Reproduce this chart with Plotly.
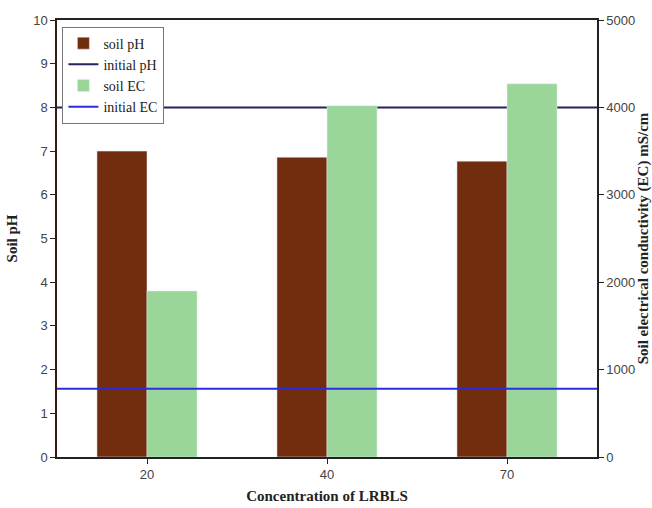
import plotly.graph_objects as go

categories = ["20", "40", "70"]
soil_ph = [7.0, 6.86, 6.77]
soil_ec = [1900, 4020, 4270]
initial_ph = 8.0
initial_ec = 780

x_idx = list(range(len(categories)))
span = [-0.5, len(categories) - 0.5]

brown = "#722D0E"
green = "#9AD69A"
navy = "#23235E"
blue = "#2B2BE6"

fig = go.Figure()
fig.add_trace(go.Bar(x=x_idx, y=soil_ph, name="soil pH", marker_color=brown,
                     width=0.278, offset=-0.278, yaxis="y"))
fig.add_trace(go.Scatter(x=span, y=[initial_ph, initial_ph], mode="lines", name="initial pH",
                         line=dict(color=navy, width=2), yaxis="y"))
fig.add_trace(go.Bar(x=x_idx, y=soil_ec, name="soil EC", marker_color=green,
                     width=0.278, offset=0, yaxis="y2"))
fig.add_trace(go.Scatter(x=span, y=[initial_ec, initial_ec], mode="lines", name="initial EC",
                         line=dict(color=blue, width=2), yaxis="y2"))

tickfont = dict(family="Liberation Sans, Arial", size=13, color="#444")
titlefont = dict(family="Liberation Serif, Times New Roman", size=15, color="#222")

fig.update_layout(
    width=652, height=508,
    margin=dict(l=57, r=55, t=20, b=51),
    plot_bgcolor="white", paper_bgcolor="white",
    barmode="overlay",
    showlegend=True,
    legend=dict(x=0.01, y=0.985, xanchor="left", yanchor="top",
                bordercolor="#777", borderwidth=1, bgcolor="white",
                font=dict(family="Liberation Serif, Times New Roman", size=14, color="#222"),
                tracegroupgap=0, itemwidth=30),
    xaxis=dict(range=span, tickvals=x_idx, ticktext=categories, automargin=False,
               showline=True, linecolor="#222", linewidth=1.5, mirror=True,
               ticks="outside", ticklen=5, tickcolor="#222", showgrid=False,
               tickfont=tickfont,
               title=dict(text="<b>Concentration of LRBLS</b>", font=titlefont, standoff=9)),
    yaxis=dict(range=[0, 10], dtick=1, showline=True, linecolor="#3a1a10", linewidth=1.5,
               automargin=False,
               ticks="outside", ticklen=5, tickcolor="#222", showgrid=False, zeroline=False,
               tickfont=tickfont,
               title=dict(text="<b>Soil pH</b>", font=titlefont, standoff=12)),
    yaxis2=dict(range=[0, 5000], dtick=1000, overlaying="y", side="right",
                automargin=False,
                showline=True, linecolor="#222", linewidth=1.5,
                ticks="outside", ticklen=5, tickcolor="#222", showgrid=False, zeroline=False,
                tickfont=tickfont,
                title=dict(text="<b>Soil electrical conductivity (EC) mS/cm</b>", font=titlefont, standoff=1)),
)

fig.write_html("out.html")
